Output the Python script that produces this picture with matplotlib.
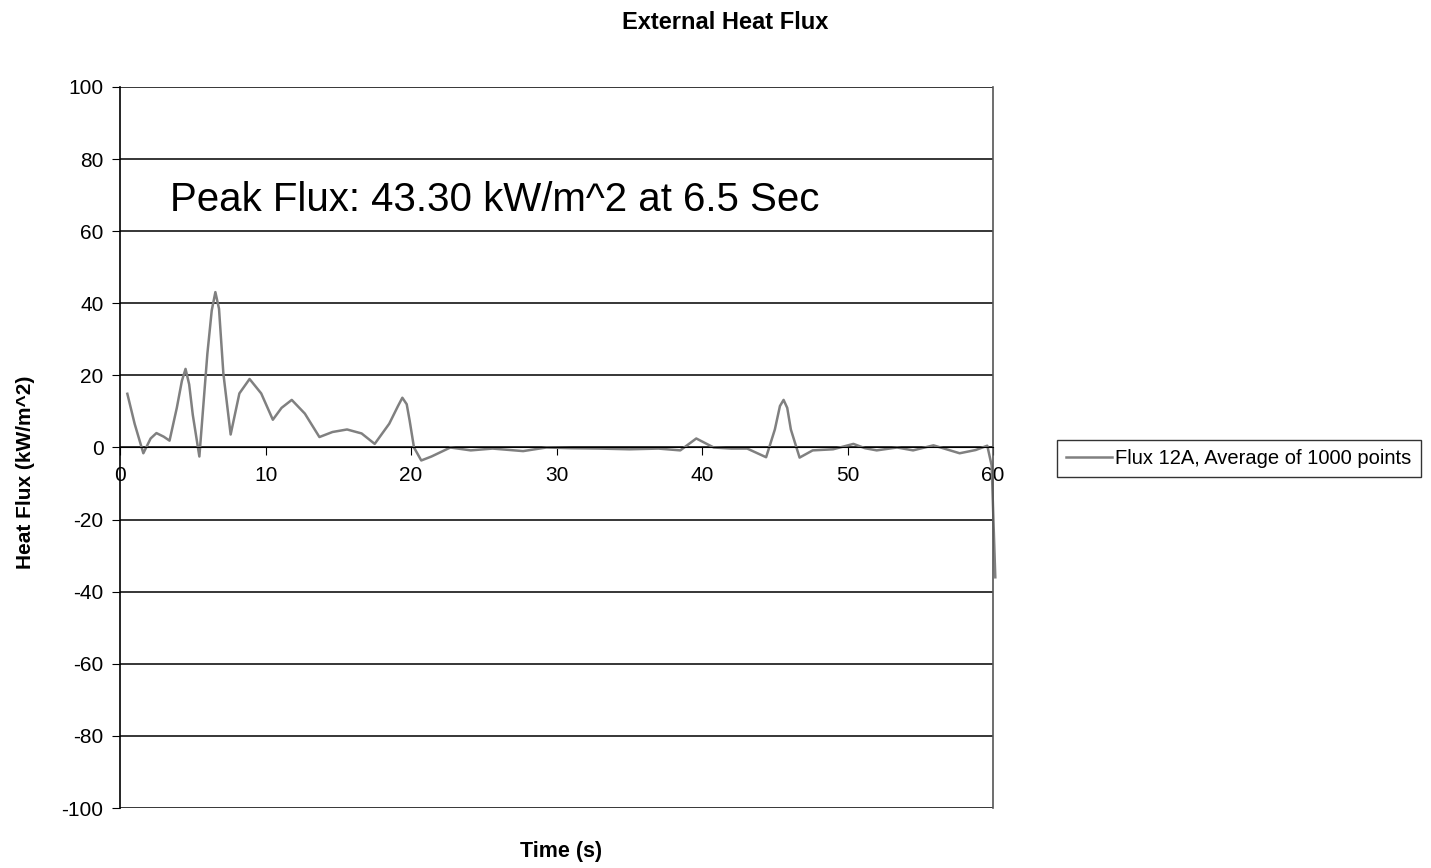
import matplotlib.pyplot as plt

plt.rcParams['font.family'] = ['Liberation Sans', 'DejaVu Sans']
plt.rcParams['axes.unicode_minus'] = False

# Données
time_s = [0.5, 1.0, 1.6, 2.1, 2.5, 3.0, 3.4, 3.9, 4.25, 4.5, 4.75, 5.0, 5.45, 6.0, 6.3,
          6.55, 6.8, 7.1, 7.6, 8.2, 8.9, 9.7, 10.5, 11.1, 11.8, 12.7, 13.7, 14.6, 15.6,
          16.6, 17.5, 18.5, 19.1, 19.4, 19.7, 19.9, 20.2, 20.7, 21.4, 22.7, 24.1, 25.6,
          27.7, 29.3, 31, 33, 35, 37, 38.5, 39.6, 40.8, 42, 43.1, 44.4, 45.0, 45.35,
          45.6, 45.85, 46.1, 46.7, 47.6, 49, 50.4, 51.2, 52, 53.4, 54.5, 55.9, 57.7,
          58.8, 59.6, 59.9, 60.15]
flux = [14.9, 6.6, -1.6, 2.5, 4.0, 3.0, 1.9, 11.0, 18.5, 21.8, 17.5, 9.0, -2.5, 26.0, 38.0,
        43.1, 38.5, 20.5, 3.6, 15.0, 19.0, 15.0, 7.7, 11.0, 13.2, 9.4, 2.9, 4.3, 5.0,
        3.9, 1.0, 6.6, 11.5, 13.8, 12.0, 7.5, 0.0, -3.6, -2.5, 0.0, -0.8, -0.3,
        -1.0, 0.0, -0.2, -0.3, -0.5, -0.3, -0.8, 2.5, 0.0, -0.3, -0.3, -2.7, 5.0, 11.5,
        13.2, 11.0, 5.0, -2.8, -0.8, -0.5, 1.0, -0.2, -0.8, 0.0, -0.8, 0.6, -1.6,
        -0.7, 0.5, -5.0, -36.0]

x_ticks = [0, 10, 20, 30, 40, 50, 60]
y_ticks = [-100, -80, -60, -40, -20, 0, 20, 40, 60, 80, 100]

fig = plt.figure(figsize=(14.31, 8.68), dpi=100)
ax = fig.add_axes([0.0839, 0.0691, 0.6101, 0.8307])

ax.plot(time_s, flux, color='#808080', linewidth=1.8, clip_on=False,
        label='Flux 12A, Average of 1000 points')

ax.set_xlim(0, 60)
ax.set_ylim(-100, 100)
ax.set_xticks(x_ticks)
ax.set_yticks(y_ticks)

# Grille horizontale
ax.yaxis.grid(True, color='black', linewidth=1.1)
ax.set_axisbelow(True)

# Axe des x à y=0
ax.spines['bottom'].set_position(('data', 0))
ax.spines['bottom'].set_color('black')
ax.spines['top'].set_visible(False)
ax.spines['left'].set_color('black')
ax.spines['left'].set_linewidth(1.2)
ax.spines['right'].set_color('#555555')
ax.spines['right'].set_linewidth(1.2)

ax.tick_params(axis='x', direction='out', length=6, labelsize=15, pad=7)
ax.tick_params(axis='y', direction='out', length=6, labelsize=15, pad=6)

ax.text(3.4, 68.6, 'Peak Flux: 43.30 kW/m^2 at 6.5 Sec', fontsize=29, va='center', ha='left')

fig.text(0.507, 0.974, 'External Heat Flux', fontsize=17, fontweight='bold', ha='center', va='center')
fig.text(0.392, 0.019, 'Time (s)', fontsize=15.5, fontweight='bold', ha='center', va='center')
fig.text(0.018, 0.456, 'Heat Flux (kW/m^2)', fontsize=15, fontweight='bold',
         ha='center', va='center', rotation=90)

leg = fig.legend(loc='center left', bbox_to_anchor=(0.7386, 0.4718), fontsize=14.5,
                 frameon=True, fancybox=False, handlelength=2.3, handletextpad=0.15,
                 borderpad=0.45, borderaxespad=0)
leg.get_frame().set_edgecolor('black')
leg.get_frame().set_linewidth(1.0)

plt.savefig('out.png', dpi=100)
